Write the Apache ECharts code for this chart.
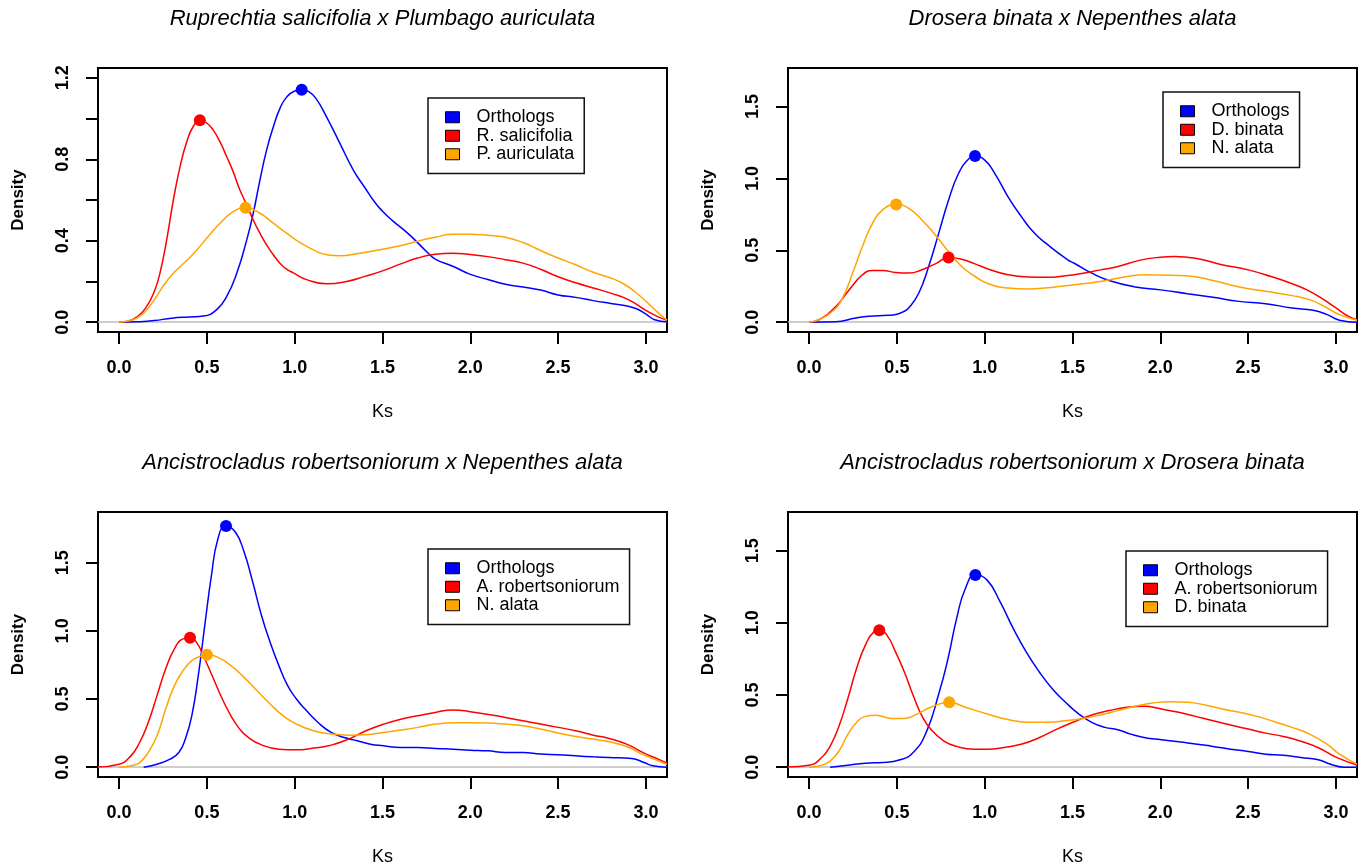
<!DOCTYPE html>
<html>
<head>
<meta charset="utf-8">
<title>Ks density</title>
<script src="https://cdn.jsdelivr.net/npm/echarts@6.0.0/dist/echarts.min.js"></script>
<style>
  html, body { margin: 0; padding: 0; background: #fff; }
  #chart { width: 1366px; height: 865px; }
</style>
</head>
<body>
<div id="chart"></div>
<script>
// ---- data (Ks, density) ----
var X_TICKS = [0, 0.5, 1, 1.5, 2, 2.5, 3];
var Y_TICKS_A = [0, 0.2, 0.4, 0.6, 0.8, 1.0, 1.2];
var Y_LABELS_A = [0, 0.4, 0.8, 1.2];
var Y_TICKS_B = [0, 0.5, 1, 1.5];

var TITLES = [
    'Ruprechtia salicifolia x Plumbago auriculata',
    'Drosera binata x Nepenthes alata',
    'Ancistrocladus robertsoniorum x Nepenthes alata',
    'Ancistrocladus robertsoniorum x Drosera binata'
];
var NAMES = [
    ['Orthologs', 'R. salicifolia', 'P. auriculata'],
    ['Orthologs', 'D. binata', 'N. alata'],
    ['Orthologs', 'A. robertsoniorum', 'N. alata'],
    ['Orthologs', 'A. robertsoniorum', 'D. binata']
];

// panel 1
var P1_ORTHO = [[0,0],[0.1,0.002],[0.2,0.008],[0.3,0.02],[0.4,0.026],[0.48,0.03],[0.556,0.062],[0.613,0.127],[0.67,0.24],[0.727,0.404],[0.764,0.535],[0.802,0.698],[0.84,0.845],[0.878,0.958],[0.916,1.05],[0.954,1.105],[1.0,1.135],[1.04,1.141],[1.08,1.132],[1.12,1.1],[1.182,1.007],[1.258,0.877],[1.334,0.747],[1.4,0.66],[1.455,0.59],[1.5,0.545],[1.555,0.5],[1.654,0.429],[1.753,0.345],[1.8,0.31],[1.9,0.275],[2.0,0.235],[2.1,0.21],[2.2,0.186],[2.3,0.173],[2.4,0.158],[2.5,0.134],[2.6,0.122],[2.7,0.106],[2.8,0.092],[2.9,0.078],[2.95,0.065],[3.0,0.04],[3.05,0.012],[3.12,0.002]];
var P1_RSAL = [[0,0],[0.05,0.005],[0.1,0.025],[0.15,0.068],[0.2,0.15],[0.233,0.242],[0.271,0.404],[0.309,0.6],[0.347,0.763],[0.385,0.885],[0.423,0.962],[0.461,0.991],[0.499,0.978],[0.537,0.942],[0.575,0.885],[0.613,0.812],[0.65,0.738],[0.688,0.649],[0.727,0.576],[0.764,0.502],[0.802,0.437],[0.84,0.38],[0.878,0.331],[0.916,0.29],[0.954,0.261],[0.992,0.242],[1.068,0.209],[1.182,0.189],[1.296,0.2],[1.4,0.225],[1.5,0.252],[1.6,0.285],[1.7,0.315],[1.8,0.334],[1.9,0.339],[2.0,0.332],[2.1,0.322],[2.2,0.307],[2.3,0.29],[2.4,0.26],[2.5,0.223],[2.6,0.194],[2.7,0.168],[2.8,0.143],[2.9,0.111],[3.0,0.058],[3.07,0.026],[3.12,0.01]];
var P1_PAUR = [[0,0],[0.05,0.006],[0.1,0.02],[0.15,0.054],[0.2,0.11],[0.25,0.176],[0.3,0.232],[0.35,0.275],[0.4,0.315],[0.45,0.362],[0.5,0.413],[0.575,0.486],[0.65,0.543],[0.72,0.562],[0.802,0.535],[0.878,0.486],[0.954,0.437],[1.03,0.391],[1.106,0.355],[1.182,0.331],[1.258,0.326],[1.372,0.339],[1.5,0.358],[1.6,0.375],[1.7,0.398],[1.8,0.417],[1.9,0.432],[2.0,0.432],[2.1,0.427],[2.2,0.417],[2.3,0.391],[2.4,0.352],[2.5,0.315],[2.6,0.282],[2.7,0.245],[2.8,0.217],[2.87,0.19],[2.94,0.147],[3.0,0.103],[3.07,0.046],[3.12,0.01]];
var P1_PEAKS = [[1.04,1.141],[0.46,0.991],[0.72,0.562]];

// panel 2
var P2_ORTHO = [[0,0],[0.15,0.003],[0.267,0.03],[0.342,0.042],[0.45,0.048],[0.5,0.056],[0.535,0.072],[0.568,0.1],[0.625,0.203],[0.681,0.388],[0.738,0.618],[0.794,0.849],[0.851,1.034],[0.907,1.133],[0.945,1.156],[1.002,1.126],[1.058,1.034],[1.133,0.872],[1.209,0.734],[1.284,0.618],[1.36,0.538],[1.473,0.434],[1.51,0.41],[1.61,0.341],[1.708,0.29],[1.857,0.245],[2.0,0.225],[2.155,0.198],[2.3,0.173],[2.45,0.145],[2.6,0.129],[2.75,0.099],[2.87,0.083],[2.95,0.053],[3.02,0.014],[3.12,0]];
var P2_DBIN = [[0,0],[0.059,0.019],[0.154,0.111],[0.229,0.226],[0.304,0.33],[0.361,0.36],[0.417,0.36],[0.493,0.346],[0.568,0.342],[0.643,0.365],[0.719,0.406],[0.794,0.45],[0.869,0.438],[0.945,0.406],[1.02,0.37],[1.133,0.33],[1.246,0.314],[1.36,0.312],[1.473,0.325],[1.51,0.33],[1.66,0.364],[1.76,0.388],[1.88,0.43],[2.0,0.452],[2.08,0.457],[2.2,0.445],[2.35,0.4],[2.5,0.364],[2.63,0.318],[2.75,0.268],[2.87,0.203],[3.0,0.099],[3.07,0.042],[3.12,0.018]];
var P2_NALA = [[0,0],[0.059,0.019],[0.134,0.076],[0.191,0.169],[0.248,0.342],[0.304,0.526],[0.361,0.688],[0.417,0.78],[0.496,0.819],[0.568,0.792],[0.643,0.711],[0.719,0.607],[0.794,0.491],[0.869,0.388],[0.945,0.318],[1.02,0.268],[1.133,0.238],[1.246,0.231],[1.36,0.24],[1.473,0.256],[1.51,0.26],[1.66,0.284],[1.81,0.318],[1.91,0.33],[2.0,0.328],[2.15,0.323],[2.3,0.29],[2.45,0.245],[2.6,0.215],[2.75,0.185],[2.85,0.157],[2.95,0.099],[3.02,0.053],[3.12,0.014]];
var P2_PEAKS = [[0.945,1.156],[0.794,0.45],[0.496,0.819]];

// panel 3
var P3_ORTHO = [[0.14,0],[0.216,0.022],[0.29,0.059],[0.34,0.108],[0.377,0.206],[0.414,0.377],[0.451,0.672],[0.488,1.04],[0.526,1.407],[0.563,1.676],[0.607,1.77],[0.662,1.725],[0.712,1.578],[0.761,1.358],[0.811,1.113],[0.86,0.917],[0.91,0.745],[0.96,0.598],[1.01,0.5],[1.059,0.426],[1.133,0.328],[1.208,0.255],[1.282,0.218],[1.356,0.194],[1.431,0.169],[1.505,0.157],[1.604,0.145],[1.703,0.145],[1.803,0.137],[1.902,0.132],[2.0,0.125],[2.1,0.12],[2.2,0.108],[2.3,0.108],[2.4,0.096],[2.5,0.091],[2.6,0.083],[2.7,0.076],[2.79,0.071],[2.92,0.064],[2.99,0.034],[3.04,0.01],[3.12,0]];
var P3_AROB = [[-0.12,0.002],[0,0.022],[0.067,0.083],[0.117,0.181],[0.166,0.328],[0.216,0.525],[0.265,0.72],[0.315,0.868],[0.364,0.941],[0.404,0.949],[0.44,0.917],[0.488,0.794],[0.538,0.647],[0.588,0.5],[0.637,0.377],[0.687,0.279],[0.736,0.218],[0.811,0.164],[0.91,0.132],[1.01,0.127],[1.108,0.14],[1.208,0.162],[1.307,0.206],[1.406,0.267],[1.505,0.315],[1.604,0.352],[1.7,0.377],[1.8,0.402],[1.9,0.42],[2.0,0.407],[2.2,0.365],[2.4,0.316],[2.5,0.292],[2.6,0.267],[2.7,0.235],[2.79,0.211],[2.89,0.169],[2.99,0.103],[3.07,0.059],[3.12,0.029]];
var P3_NALA = [[0,0],[0.067,0.01],[0.117,0.034],[0.166,0.108],[0.216,0.23],[0.265,0.426],[0.315,0.598],[0.364,0.708],[0.414,0.782],[0.464,0.814],[0.5,0.824],[0.563,0.806],[0.637,0.745],[0.712,0.659],[0.786,0.561],[0.86,0.463],[0.935,0.377],[1.01,0.316],[1.108,0.267],[1.208,0.243],[1.307,0.235],[1.406,0.238],[1.505,0.255],[1.604,0.272],[1.703,0.292],[1.803,0.316],[1.9,0.326],[2.0,0.326],[2.1,0.324],[2.2,0.316],[2.3,0.304],[2.4,0.28],[2.5,0.25],[2.6,0.225],[2.7,0.206],[2.79,0.186],[2.89,0.152],[2.99,0.088],[3.07,0.047],[3.12,0.022]];
var P3_PEAKS = [[0.609,1.77],[0.404,0.949],[0.5,0.824]];

// panel 4
var P4_ORTHO = [[0.12,0],[0.22,0.014],[0.32,0.028],[0.42,0.032],[0.518,0.051],[0.593,0.102],[0.667,0.241],[0.741,0.519],[0.791,0.751],[0.84,1.029],[0.89,1.238],[0.947,1.331],[1.014,1.296],[1.088,1.145],[1.163,0.96],[1.237,0.797],[1.312,0.658],[1.386,0.542],[1.46,0.45],[1.535,0.369],[1.609,0.311],[1.684,0.276],[1.758,0.26],[1.832,0.229],[1.907,0.206],[2.006,0.19],[2.105,0.176],[2.2,0.16],[2.3,0.144],[2.4,0.125],[2.5,0.109],[2.6,0.09],[2.7,0.083],[2.8,0.067],[2.9,0.051],[2.97,0.021],[3.05,0],[3.12,0]];
var P4_AROB = [[-0.12,0.002],[0,0.014],[0.072,0.067],[0.121,0.148],[0.171,0.287],[0.22,0.473],[0.27,0.682],[0.32,0.844],[0.369,0.937],[0.4,0.948],[0.444,0.913],[0.493,0.797],[0.543,0.658],[0.593,0.496],[0.642,0.357],[0.692,0.264],[0.766,0.183],[0.84,0.144],[0.94,0.125],[1.014,0.125],[1.113,0.137],[1.212,0.16],[1.312,0.206],[1.411,0.264],[1.51,0.315],[1.609,0.362],[1.708,0.392],[1.808,0.415],[1.907,0.422],[2.006,0.403],[2.105,0.38],[2.2,0.352],[2.3,0.322],[2.4,0.292],[2.5,0.264],[2.6,0.236],[2.7,0.213],[2.8,0.18],[2.9,0.135],[3.0,0.07],[3.12,0.015]];
var P4_DBIN = [[0,0],[0.072,0.014],[0.121,0.044],[0.171,0.114],[0.22,0.225],[0.27,0.31],[0.32,0.352],[0.38,0.36],[0.469,0.338],[0.543,0.338],[0.617,0.369],[0.692,0.415],[0.798,0.45],[0.89,0.415],[1.014,0.369],[1.138,0.329],[1.262,0.311],[1.361,0.311],[1.46,0.322],[1.56,0.338],[1.659,0.362],[1.758,0.392],[1.857,0.422],[1.956,0.445],[2.056,0.454],[2.155,0.45],[2.254,0.431],[2.353,0.403],[2.452,0.38],[2.551,0.352],[2.65,0.315],[2.75,0.276],[2.85,0.229],[2.949,0.16],[3.02,0.09],[3.12,0.021]];
var P4_PEAKS = [[0.947,1.331],[0.4,0.948],[0.798,0.45]];

var CURVES = [
    [P1_ORTHO, P1_RSAL, P1_PAUR],
    [P2_ORTHO, P2_DBIN, P2_NALA],
    [P3_ORTHO, P3_AROB, P3_NALA],
    [P4_ORTHO, P4_AROB, P4_DBIN]
];
var PEAKS = [P1_PEAKS, P2_PEAKS, P3_PEAKS, P4_PEAKS];

// R style ranges: xlim c(0,3), ylim c(0,top), each widened by 4%
var X_LIM = [0, 3];
var Y_TOPS = [1.2, 1.7, 1.8, 1.7];

// ---- layout ----
var COLORS = ['#0000ff', '#ff0000', '#ffa500'];
var FONT = '"Liberation Sans", Arial, Helvetica, sans-serif';
var BOXES = [
    { left: 98, top: 68, width: 569, height: 264 },
    { left: 788, top: 68, width: 569, height: 264 },
    { left: 98, top: 512, width: 569, height: 265 },
    { left: 788, top: 512, width: 569, height: 265 }
];
var LEGEND_POS = [
    { left: 428, top: 98 },
    { left: 1163, top: 92 },
    { left: 428, top: 549 },
    { left: 1126, top: 551 }
];

/**
 * Widen a range by 4% on each side, like R's default axis style.
 * @param {number} lo
 * @param {number} hi
 * @returns {number[]}
 */
function widen(lo, hi) {
    var d = (hi - lo) * 0.04;
    return [lo - d, hi + d];
}

var tickStyle = { show: true, length: 12, inside: false, lineStyle: { color: '#000', width: 2 } };
var labelFont = { color: '#000', fontFamily: FONT, fontSize: 18, fontWeight: 'bold' };

var option = {
    animation: false,
    backgroundColor: '#fff',
    grid: [],
    xAxis: [],
    yAxis: [],
    legend: [],
    series: [],
    graphic: []
};

for (var i = 0; i < 4; i++) {
    var box = BOXES[i];
    var xr = widen(X_LIM[0], X_LIM[1]);
    var yr = widen(0, Y_TOPS[i]);
    var yTicks = i === 0 ? Y_TICKS_A : Y_TICKS_B;
    var yLabels = i === 0 ? Y_LABELS_A : Y_TICKS_B;

    option.grid.push({
        left: box.left, top: box.top, width: box.width, height: box.height,
        show: true, borderColor: '#000', borderWidth: 2, backgroundColor: 'transparent',
        containLabel: false, outerBoundsMode: 'none'
    });

    option.xAxis.push({
        type: 'value', gridIndex: i, min: xr[0], max: xr[1],
        axisLine: { show: false, onZero: false },
        axisTick: Object.assign({ customValues: X_TICKS }, tickStyle),
        axisLabel: Object.assign({
            customValues: X_TICKS, margin: 27, lineHeight: 18,
            formatter: function (v) { return v.toFixed(1); }
        }, labelFont),
        splitLine: { show: false },
        name: 'Ks', nameLocation: 'middle', nameGap: 71,
        nameTextStyle: { color: '#000', fontFamily: FONT, fontSize: 18, lineHeight: 18 }
    });

    option.yAxis.push({
        type: 'value', gridIndex: i, min: yr[0], max: yr[1],
        axisLine: { show: false, onZero: false },
        axisTick: Object.assign({ customValues: yTicks }, tickStyle),
        axisLabel: Object.assign({
            customValues: yLabels, rotate: 90, margin: 26, lineHeight: 18,
            formatter: function (v) { return v.toFixed(1); }
        }, labelFont),
        splitLine: { show: false },
        name: 'Density', nameLocation: 'middle', nameGap: 71,
        nameTextStyle: { color: '#000', fontFamily: FONT, fontSize: 17, fontWeight: 'bold', lineHeight: 17 }
    });

    option.legend.push({
        orient: 'vertical',
        left: LEGEND_POS[i].left, top: LEGEND_POS[i].top,
        data: NAMES[i].map(function (n, k) {
            return { name: n, itemStyle: { color: COLORS[k], borderColor: '#000', borderWidth: 1 } };
        }),
        selectedMode: false,
        icon: 'rect', itemWidth: 14, itemHeight: 11, itemGap: 0,
        padding: [10, 10, 10, 17],
        borderColor: '#111', borderWidth: 1.5, borderRadius: 0,
        backgroundColor: '#fff',
        textStyle: { color: '#000', fontFamily: FONT, fontSize: 18, lineHeight: 18.5, padding: [0, 0, 0, 12] }
    });

    option.graphic.push({
        type: 'text',
        x: box.left + box.width / 2,
        y: i < 2 ? 19 : 463,
        style: {
            text: TITLES[i], fill: '#000',
            font: 'italic 22px ' + FONT,
            textAlign: 'center', textVerticalAlign: 'middle'
        }
    });

    for (var k = 0; k < 3; k++) {
        var s = {
            type: 'line', name: NAMES[i][k],
            xAxisIndex: i, yAxisIndex: i,
            data: CURVES[i][k],
            showSymbol: false, smooth: 0.5,
            color: COLORS[k],
            lineStyle: { color: COLORS[k], width: 1.5 },
            z: 3 + k
        };
        if (k === 0) {
            s.markLine = {
                silent: true, symbol: ['none', 'none'], label: { show: false },
                lineStyle: { color: '#bebebe', width: 1.5, type: 'solid' },
                data: [{ yAxis: 0 }], z: 1
            };
        }
        option.series.push(s);
    }

    option.series.push({
        type: 'scatter', name: 'peaks' + i,
        xAxisIndex: i, yAxisIndex: i,
        data: PEAKS[i].map(function (p, k) {
            return { value: p, itemStyle: { color: COLORS[k], opacity: 1 } };
        }),
        symbol: 'circle', symbolSize: 12, z: 10
    });
}

var chart = echarts.init(document.getElementById('chart'), null, { renderer: 'canvas' });
chart.setOption(option);
</script>
</body>
</html>
